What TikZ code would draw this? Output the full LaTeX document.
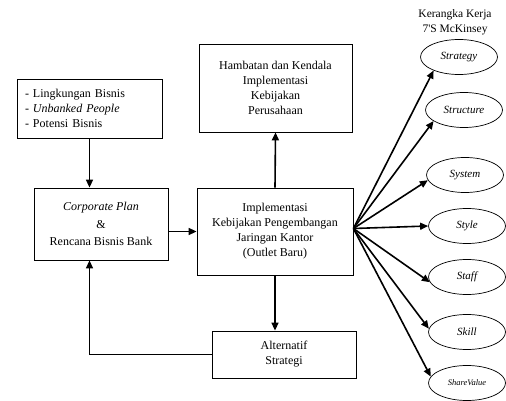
\documentclass[tikz,border=0pt]{standalone}
\usepackage{fontspec}
\setmainfont{Liberation Serif}
\usetikzlibrary{arrows.meta,shapes.geometric}
\begin{document}
\begin{tikzpicture}[x=1pt,y=-1pt,
  boxnode/.style={draw,line width=0.8pt,inner sep=0pt,align=center,font=\fontsize{12}{15}\selectfont},
  ellnode/.style={draw,ellipse,line width=0.7pt,minimum width=77pt,minimum height=35pt,inner sep=0pt,font=\fontsize{11}{13}\selectfont\itshape},
  conn/.style={line width=1.6pt,-{Triangle[length=8pt,width=7pt]}},
  fb/.style={line width=1pt}]
\useasboundingbox (0,0) rectangle (506,401);
\node[boxnode,minimum width=145pt,minimum height=59pt,text width=129pt,inner xsep=8pt,align=left] (env) at (89.5,108.5)
  {- Lingkungan Bisnis\\- \textit{Unbanked People}\\- Potensi Bisnis};
\node[boxnode,minimum width=134pt,minimum height=72pt,font=\fontsize{12}{17.5}\selectfont] (corp) at (101,224)
  {\textit{Corporate Plan}\\\&\\Rencana Bisnis Bank};
\node[boxnode,minimum width=156pt,minimum height=87pt] (impl) at (275,231.5)
  {Implementasi\\Kebijakan Pengembangan\\Jaringan Kantor\\(Outlet Baru)};
\node[boxnode,minimum width=153pt,minimum height=88pt] (hamb) at (275.5,88)
  {Hambatan dan Kendala\\Implementasi\\Kebijakan\\Perusahaan};
\node[boxnode,minimum width=144pt,minimum height=47pt] (alt) at (284,354.5)
  {Alternatif\\Strategi};
\node[align=center,font=\fontsize{11.5}{15}\selectfont] (title) at (455,22) {Kerangka Kerja\\7\textquotesingle S McKinsey};
\node[ellnode] (strategy) at (459,57) {Strategy};
\node[ellnode] (structure) at (464,110) {Structure};
\node[ellnode] (system) at (465,175) {System};
\node[ellnode] (style) at (467,226) {Style};
\node[ellnode] (staff) at (467,277) {Staff};
\node[ellnode] (skill) at (467,332) {Skill};
\node[ellnode,font=\fontsize{8.5}{10}\selectfont\itshape] (share) at (467,383) {ShareValue};
\coordinate (hub) at ([yshift=3pt]impl.east);
\draw[conn] (env.south) -- (env.south |- corp.north);
\draw[conn] (corp.east |- impl.west) -- (impl.west);
\draw[conn] (impl.north) -- (hamb.south);
\draw[conn] (impl.south) -- (impl.south |- alt.north);
\draw[fb] (alt.west) -| (env.south |- corp.south);
\draw[conn,line width=1.3pt] ([yshift=10pt]alt.west -| env.south) -- (env.south |- corp.south);
\draw[conn] (hub) -- (strategy.208);
\draw[conn] (hub) -- (structure.200);
\draw[conn] (hub) -- (system.188);
\draw[conn] (hub) -- (style.180);
\draw[conn] (hub) -- (staff.188);
\draw[conn] (hub) -- (skill.175);
\draw[conn] (hub) -- (share.170);
\end{tikzpicture}
\end{document}
